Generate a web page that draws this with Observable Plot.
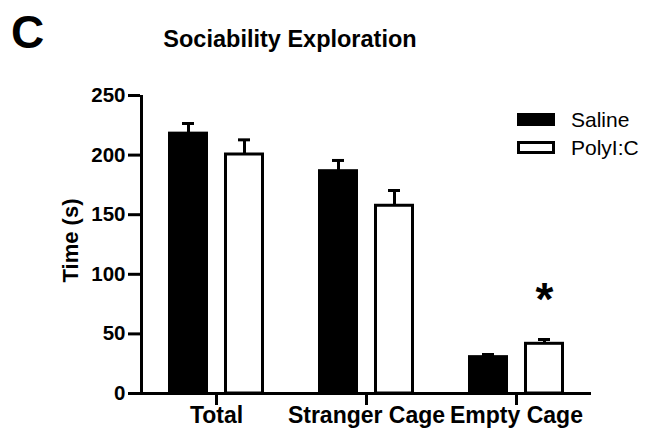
<!DOCTYPE html>
<html>
<head>
<meta charset="utf-8">
<script src="https://cdn.jsdelivr.net/npm/d3@7"></script>
<script src="https://cdn.jsdelivr.net/npm/@observablehq/plot@0.6"></script>
<style>
  html, body { margin: 0; padding: 0; background: #fff; }
  #wrap { position: relative; width: 653px; height: 434px; font-family: "Liberation Sans", Arial, sans-serif; color: #000; }
  #wrap svg { position: absolute; left: 0; top: 0; }
  .panel { position: absolute; left: 11px; top: 9px; font-size: 46px; font-weight: bold; line-height: 1; }
  .title { position: absolute; left: 0; width: 580px; top: 28px; text-align: center; font-size: 23.5px; font-weight: bold; line-height: 1; }
  .legend { position: absolute; left: 517px; top: 105px; font-size: 21px; line-height: 1; }
  .legend .row { display: flex; align-items: center; height: 28px; }
  .legend .sw { width: 38px; height: 13px; box-sizing: border-box; border: 3px solid #000; margin-right: 16px; }
</style>
</head>
<body>
<div id="wrap">
  <div class="panel">C</div>
  <div class="title">Sociability Exploration</div>
  <div class="legend" id="legend"></div>
</div>
<script>
const categories = ["Total", "Stranger Cage", "Empty Cage"];
const groups = ["Saline", "PolyI:C"];
const groupFills = ["#000000", "#ffffff"];
const salineMean = [218, 186.5, 30.5];
const salineSEM = [8.5, 9, 2.2];
const polyMean = [200.5, 157.5, 41.7];
const polySEM = [12.3, 12.8, 3.6];
const polyMarks = ["", "", "*"];
const yTicks = [0, 50, 100, 150, 200, 250];
const yLabel = "Time (s)";

const saline = categories.map((c, i) => ({cat: c, mean: salineMean[i], up: salineMean[i] + salineSEM[i]}));
const poly = categories.map((c, i) => ({cat: c, mean: polyMean[i], up: polyMean[i] + polySEM[i], mark: polyMarks[i]}));

const sw = 3;
const chart = Plot.plot({
  width: 653,
  height: 434,
  marginLeft: 140,
  marginRight: 62,
  marginTop: 95,
  marginBottom: 41,
  style: {fontFamily: "'Liberation Sans', Arial, sans-serif", fontWeight: "bold", color: "#000", background: "transparent"},
  x: {domain: categories, padding: 0, label: null, axis: null},
  y: {domain: [0, 250], label: null, axis: null},
  marks: [
    Plot.barY(saline, {x: "cat", y: "mean", fill: groupFills[0], stroke: "#000", strokeWidth: sw, insetLeft: 28.5, insetRight: 84.5}),
    Plot.barY(poly, {x: "cat", y: "mean", fill: groupFills[1], stroke: "#000", strokeWidth: sw, insetLeft: 84.5, insetRight: 28.5}),
    Plot.ruleX(saline, {x: "cat", y1: "mean", y2: "up", dx: -28, stroke: "#000", strokeWidth: sw}),
    Plot.tickY(saline, {x: "cat", y: "up", dx: -28, insetLeft: 69, insetRight: 69, stroke: "#000", strokeWidth: sw}),
    Plot.ruleX(poly, {x: "cat", y1: "mean", y2: "up", dx: 28, stroke: "#000", strokeWidth: sw}),
    Plot.tickY(poly, {x: "cat", y: "up", dx: 28, insetLeft: 69, insetRight: 69, stroke: "#000", strokeWidth: sw}),
    Plot.text(poly, {x: "cat", y: "up", text: "mark", dx: 28, dy: -39, fontSize: 46, fontWeight: "bold", fill: "#000"}),
    Plot.ruleY([0], {stroke: "#000", strokeWidth: sw}),
    Plot.ruleX([categories[0]], {y1: 0, y2: 250, dx: -75, stroke: "#000", strokeWidth: sw}),
    Plot.axisY({ticks: yTicks, tickSize: 12, tickPadding: 3, strokeWidth: sw, fontSize: 20.5, fontWeight: "bold", label: null, tickFormat: d => String(d)}),
    Plot.axisX({tickSize: 12, tickPadding: 1, strokeWidth: sw, fontSize: 23, fontWeight: "bold", label: null}),
    Plot.text([yLabel], {frameAnchor: "left", textAnchor: "middle", rotate: -90, dx: -70, dy: -4, fontSize: 22, fontWeight: "bold", fill: "#000"})
  ]
});
document.getElementById("wrap").prepend(chart);

const legend = document.getElementById("legend");
groups.forEach((g, i) => {
  const row = document.createElement("div");
  row.className = "row";
  const s = document.createElement("div");
  s.className = "sw";
  s.style.background = groupFills[i];
  const t = document.createElement("span");
  t.textContent = g;
  row.append(s, t);
  legend.append(row);
});
</script>
</body>
</html>
